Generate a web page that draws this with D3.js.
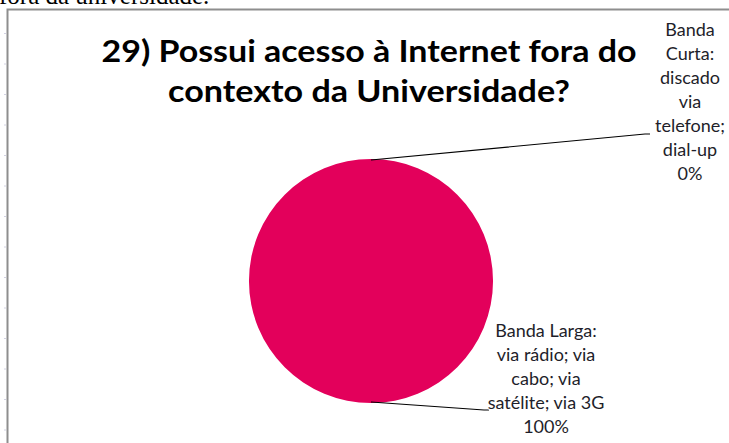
<!DOCTYPE html>
<html>
<head>
<meta charset="utf-8">
<script src="https://cdn.jsdelivr.net/npm/d3@7"></script>
<style>
  body { margin: 0; background: #fff; }
  svg { display: block; }
</style>
</head>
<body>
<div id="graph"></div>
<script>
// data
var categories = ["Banda Larga: via rádio; via cabo; via satélite; via 3G", "Banda Curta: discado via telefone; dial-up"];
var values = [100, 0];
var labelLines = [
	["Banda Larga:", "via rádio; via", "cabo; via", "satélite; via 3G", "100%"],
	["Banda", "Curta:", "discado", "via", "telefone;", "dial-up", "0%"]
];
var titleLines = ["29) Possui acesso à Internet fora do", "contexto da Universidade?"];
var pieColor = "#e3005b";

var width = 729, height = 443;

var svg = d3.select('#graph')
			.append('svg')
			.attr("width", width)
			.attr("height", height);

// caption of the document above the chart (cut off at top)
svg.append("text")
	.attr("x", -1).attr("y", 4)
	.attr("font-family", "Liberation Serif, serif")
	.attr("font-size", "25px")
	.attr("fill", "#000")
	.text("fora da universidade.");

// chart frame
svg.append("rect")
	.attr("x", 7.5).attr("y", 9.5)
	.attr("width", 740).attr("height", 460)
	.attr("fill", "#fff")
	.attr("stroke", "#8e8e8e")
	.attr("stroke-width", 2);

// faint marks on the left edge
svg.append("g").selectAll("line")
	.data(d3.range(14))
	.enter().append("line")
	.attr("x1", 4).attr("x2", 6)
	.attr("y1", d => 33.5 + d * 30.5).attr("y2", d => 33.5 + d * 30.5)
	.attr("stroke", "#d2d2e2").attr("stroke-width", 1);

// title
var titleWidths = [535, 402];
svg.append("g").selectAll("text")
	.data(titleLines)
	.enter().append("text")
	.attr("x", 369)
	.attr("y", (d, i) => 62 + i * 39.5)
	.attr("text-anchor", "middle")
	.attr("font-family", "Lato, sans-serif")
	.attr("font-weight", "bold")
	.attr("font-size", "31px")
	.attr("textLength", (d, i) => titleWidths[i])
	.attr("lengthAdjust", "spacingAndGlyphs")
	.attr("fill", "#000")
	.text(d => d);

// pie
var cx = 371, cy = 281, radius = 122;
var pie = d3.pie().sort(null).value(d => d)(values);
var arc = d3.arc().innerRadius(0).outerRadius(radius);

var g = svg.append("g").attr("transform", `translate(${cx},${cy})`);
g.selectAll("path")
	.data(pie)
	.enter().append("path")
	.attr("d", arc)
	.attr("fill", pieColor);

// label anchors and leader lines
var labelPos = [
	{x: 546, y: 337, lineEnd: [484, 410]},
	{x: 690, y: 36, lineEnd: [645, 134]}
];

pie.forEach(function(p, i) {
	var mid = (p.startAngle + p.endAngle) / 2;
	var sx = cx + Math.sin(mid) * radius;
	var sy = cy - Math.cos(mid) * (radius - 1);
	var lp = labelPos[i];
	svg.append("polyline")
		.attr("points", [[sx, sy], lp.lineEnd, [lp.lineEnd[0] + 5, lp.lineEnd[1]]].map(d => d.join(",")).join(" "))
		.attr("fill", "none")
		.attr("stroke", "#000")
		.attr("stroke-width", 1.2);

	svg.append("g").selectAll("text")
		.data(labelLines[i])
		.enter().append("text")
		.attr("x", lp.x)
		.attr("y", (d, j) => lp.y + j * 24)
		.attr("text-anchor", "middle")
		.attr("font-family", "Lato, sans-serif")
		.attr("font-size", "18px")
		.attr("fill", "#1e1e2a")
		.style("paint-order", "stroke")
		.attr("stroke", "#fff").attr("stroke-width", 2)
		.text(d => d);
});
</script>
</body>
</html>
